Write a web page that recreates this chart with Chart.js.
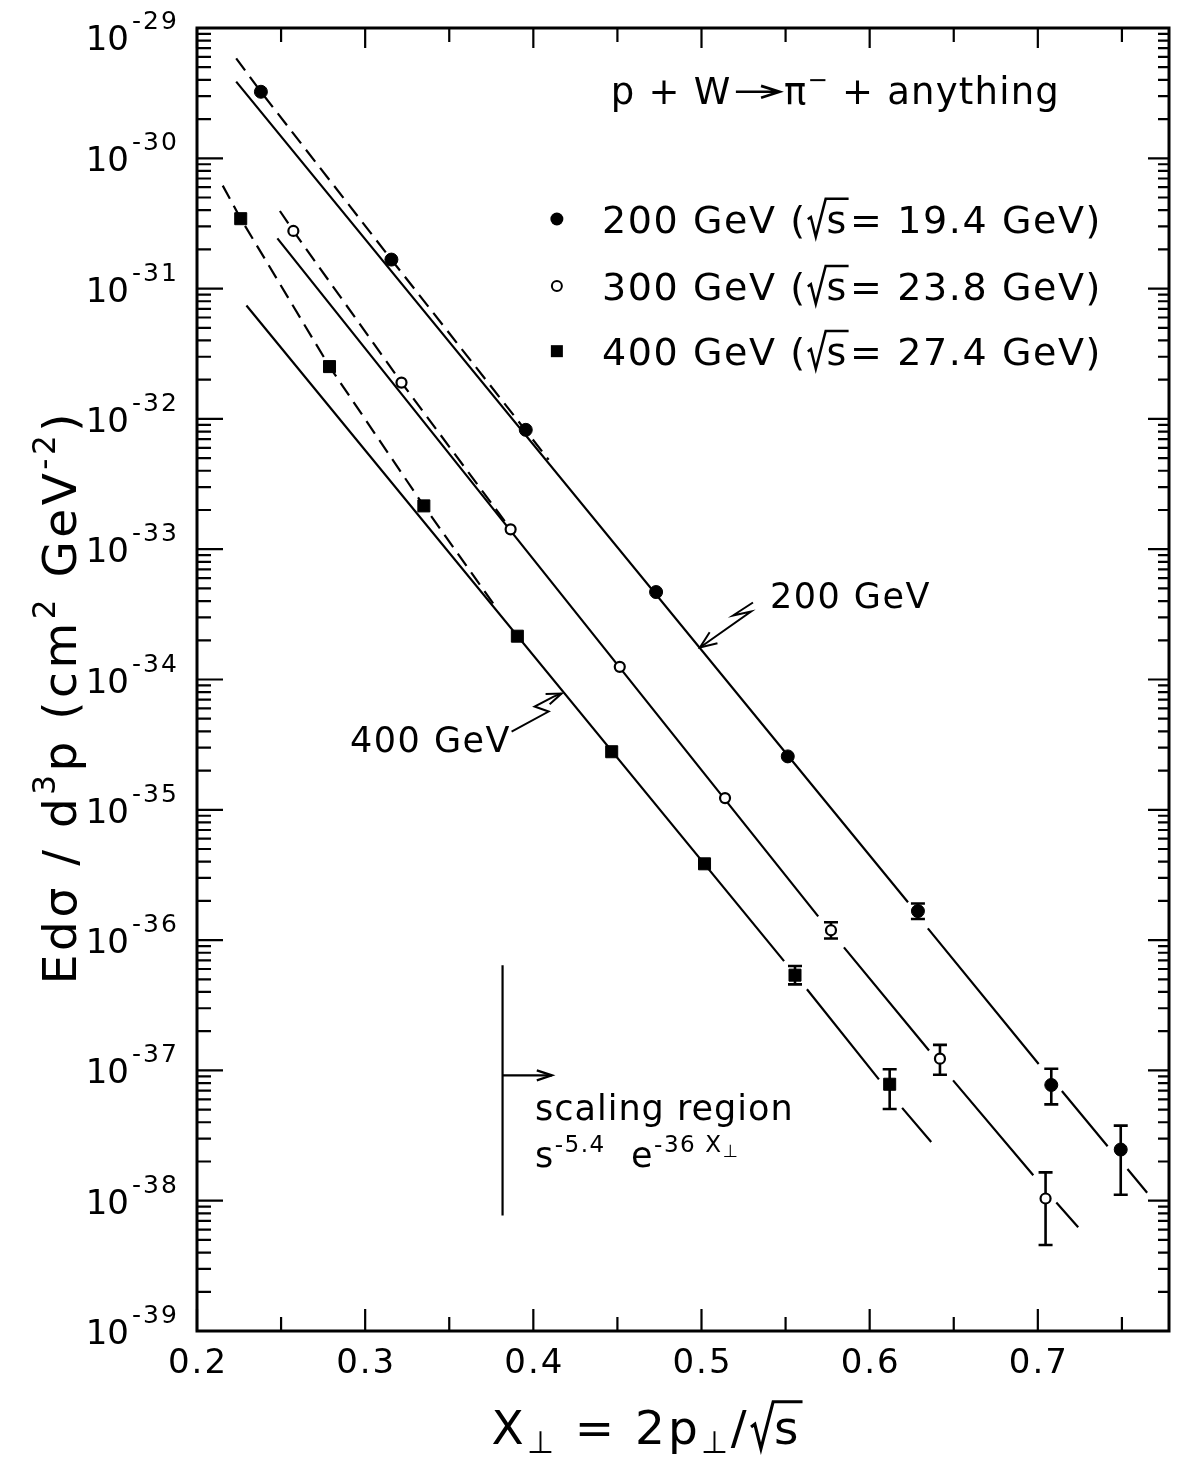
<!DOCTYPE html>
<html>
<head>
<meta charset="utf-8">
<script src="https://cdn.jsdelivr.net/npm/chart.js@4.4.1/dist/chart.umd.min.js"></script>
<style>
  html, body { margin: 0; padding: 0; background: #fff; }
  canvas { display: block; }
</style>
</head>
<body>
<canvas id="plot" width="1179" height="1463"></canvas>
<script>
// p + W -> pi- + anything
const x200 = [0.238, 0.3156, 0.3955, 0.473, 0.5513, 0.6287, 0.708, 0.7493];
const y200 = [3.24e-30, 1.67e-31, 8.24e-33, 4.69e-34, 2.57e-35, 1.67e-36, 7.73e-38, 2.47e-38];
const hi200 = [null, null, null, null, null, 1.91e-36, 1.03e-37, 3.77e-38];
const lo200 = [null, null, null, null, null, 1.45e-36, 5.49e-38, 1.11e-38];

const x300 = [0.2573, 0.3216, 0.3865, 0.4514, 0.514, 0.577, 0.6418, 0.7046];
const y300 = [2.77e-31, 1.90e-32, 1.42e-33, 1.25e-34, 1.23e-35, 1.19e-36, 1.23e-37, 1.04e-38];
const hi300 = [null, null, null, null, null, 1.37e-36, 1.57e-37, 1.65e-38];
const lo300 = [null, null, null, null, null, 1.03e-36, 9.27e-38, 4.57e-39];

const x400 = [0.226, 0.2788, 0.3349, 0.3905, 0.4466, 0.5018, 0.5556, 0.6119];
const y400 = [3.44e-31, 2.52e-32, 2.15e-33, 2.15e-34, 2.79e-35, 3.85e-36, 5.38e-37, 7.83e-38];
const hi400 = [null, null, null, null, null, null, 6.33e-37, 1.02e-37];
const lo400 = [null, null, null, null, null, null, 4.57e-37, 5.05e-38];

// fit curves (null = break in the drawn line)
const fit200x = [0.2233, 0.6228, null, 0.6346, 0.7005, null, 0.7143, 0.7415, null, 0.7533, 0.765];
const fit200y = [3.88e-30, 1.95e-36, null, 1.23e-36, 1.12e-37, null, 6.95e-38, 2.62e-38, null, 1.75e-38, 1.15e-38];
const fit300x = [0.2478, 0.5694, null, 0.5847, 0.6353, null, 0.6496, 0.6973, null, 0.711, 0.724];
const fit300y = [2.43e-31, 1.52e-36, null, 8.79e-37, 1.42e-37, null, 8.38e-38, 1.57e-38, null, 9.68e-39, 6.25e-39];
const fit400x = [0.2294, 0.5491, null, 0.5627, 0.6055, null, 0.6193, 0.6366];
const fit400y = [7.41e-32, 6.9e-37, null, 4.2e-37, 8.53e-38, null, 5.16e-38, 2.82e-38];

const low200x = [0.2233, 0.238, 0.3156, 0.4091];
const low200y = [5.85e-30, 3.24e-30, 1.67e-31, 4.86e-33];
const low300x = [0.2493, 0.2573, 0.3216, 0.3835];
const low300y = [3.94e-31, 2.77e-31, 1.90e-32, 1.61e-33];
const low400x = [0.2153, 0.226, 0.2788, 0.3349, 0.3785];
const low400y = [6.17e-31, 3.44e-31, 2.52e-32, 2.15e-33, 3.47e-34];

const beamEnergy = ['200', '300', '400'];
const rootS = ['19.4', '23.8', '27.4'];

const xMajor = [0.2, 0.3, 0.4, 0.5, 0.6, 0.7];
const xMinor = [0.25, 0.35, 0.45, 0.55, 0.65, 0.75];
const xTickLabels = ['0.2', '0.3', '0.4', '0.5', '0.6', '0.7'];
const yExponents = [-29, -30, -31, -32, -33, -34, -35, -36, -37, -38, -39];

const FAM = '"DejaVu Sans", sans-serif';

function pts(xa, ya) {
  return xa.map((x, i) => ya[i] === null ? { x: xa[i - 1], y: null } : { x: x, y: ya[i] });
}

// text with super/subscripts, roots and arrows
function rich(ctx, parts, x, y, size, spacing, draw) {
  let cx = x;
  ctx.letterSpacing = spacing + 'px';
  for (const [t, k] of parts) {
    if (k === 'n') {
      ctx.font = size + 'px ' + FAM;
      if (draw) ctx.fillText(t, cx, y);
      cx += ctx.measureText(t).width;
    } else if (k === 'sup' || k === 'sub' || k === 'supsub') {
      const s = k === 'supsub' ? size * 0.5 : size * 0.66;
      const dy = k === 'sup' ? -size * 0.44 : k === 'sub' ? size * 0.2 : -size * 0.3;
      ctx.font = s + 'px ' + FAM;
      if (draw) ctx.fillText(t, cx, y + dy);
      cx += ctx.measureText(t).width;
    } else if (k === 'root') {
      ctx.font = size + 'px ' + FAM;
      const w = ctx.measureText(t).width;
      const r = size * 0.5;
      if (draw) {
        ctx.beginPath();
        ctx.moveTo(cx + size * 0.03, y - size * 0.36);
        ctx.lineTo(cx + size * 0.11, y - size * 0.42);
        ctx.lineTo(cx + size * 0.24, y + size * 0.1);
        ctx.lineTo(cx + r, y - size * 0.9);
        ctx.lineTo(cx + r + w + size * 0.04, y - size * 0.9);
        ctx.lineWidth = size / 15;
        ctx.stroke();
        ctx.fillText(t, cx + r + size * 0.02, y);
      }
      cx += r + w + size * 0.08;
    } else if (k === 'arrow') {
      const L = size * 1.3, ay = y - size * 0.33;
      if (draw) {
        ctx.beginPath();
        ctx.moveTo(cx + size * 0.12, ay);
        ctx.lineTo(cx + L, ay);
        ctx.moveTo(cx + L - size * 0.5, ay - size * 0.16);
        ctx.lineTo(cx + L, ay);
        ctx.lineTo(cx + L - size * 0.5, ay + size * 0.16);
        ctx.lineWidth = size / 14;
        ctx.stroke();
      }
      cx += L + size * 0.12;
    }
  }
  ctx.letterSpacing = '0px';
  return cx - x;
}

function richAt(ctx, parts, x, y, size, spacing, align) {
  const w = rich(ctx, parts, 0, 0, size, spacing, false);
  const x0 = align === 'center' ? x - w / 2 : align === 'right' ? x - w : x;
  rich(ctx, parts, x0, y, size, spacing, true);
}

function arrowHead(ctx, tip, from, len, ang) {
  const a = Math.atan2(from[1] - tip[1], from[0] - tip[0]);
  ctx.beginPath();
  ctx.moveTo(tip[0] + len * Math.cos(a + ang), tip[1] + len * Math.sin(a + ang));
  ctx.lineTo(tip[0], tip[1]);
  ctx.lineTo(tip[0] + len * Math.cos(a - ang), tip[1] + len * Math.sin(a - ang));
  ctx.stroke();
}

const series = [
  { x: x200, y: y200, hi: hi200, lo: lo200 },
  { x: x300, y: y300, hi: hi300, lo: lo300 },
  { x: x400, y: y400, hi: hi400, lo: lo400 }
];

const decorations = {
  id: 'decorations',
  beforeDatasetsDraw(chart) {
    const { ctx, scales: { x: xs, y: ys } } = chart;
    ctx.save();
    ctx.strokeStyle = '#000';
    ctx.lineWidth = 2.6;
    for (const s of series) {
      s.x.forEach((xv, i) => {
        if (s.hi[i] === null) return;
        const px = xs.getPixelForValue(xv);
        const t = ys.getPixelForValue(s.hi[i]);
        const b = ys.getPixelForValue(s.lo[i]);
        ctx.beginPath();
        ctx.moveTo(px, t); ctx.lineTo(px, b);
        ctx.moveTo(px - 7, t); ctx.lineTo(px + 7, t);
        ctx.moveTo(px - 7, b); ctx.lineTo(px + 7, b);
        ctx.stroke();
      });
    }
    ctx.restore();
  },
  afterDraw(chart) {
    const { ctx, chartArea: a, scales: { x: xs, y: ys } } = chart;
    const P = (xv, yv) => [xs.getPixelForValue(xv), ys.getPixelForValue(yv)];
    ctx.save();
    ctx.strokeStyle = '#000';
    ctx.fillStyle = '#000';
    ctx.lineCap = 'butt';

    // frame
    ctx.lineWidth = 3;
    ctx.strokeRect(a.left, a.top, a.right - a.left, a.bottom - a.top);

    // y ticks (inward on both sides)
    ctx.lineWidth = 2.2;
    yExponents.forEach(e => {
      const py = ys.getPixelForValue(Math.pow(10, e));
      ctx.beginPath();
      ctx.moveTo(a.left, py); ctx.lineTo(a.left + 26, py);
      ctx.moveTo(a.right, py); ctx.lineTo(a.right - 21, py);
      ctx.stroke();
      if (e > -39) {
        for (let m = 2; m <= 9; m++) {
          const pm = ys.getPixelForValue(m * Math.pow(10, e - 1));
          ctx.beginPath();
          ctx.moveTo(a.left, pm); ctx.lineTo(a.left + 14, pm);
          ctx.moveTo(a.right, pm); ctx.lineTo(a.right - 11, pm);
          ctx.stroke();
        }
      }
      // label 10^e
      const base = Math.max(py + 13, a.top + 22);
      ctx.font = '34px ' + FAM;
      ctx.letterSpacing = '0px';
      ctx.textAlign = 'right';
      ctx.fillText('10', a.left - 68, base);
      ctx.textAlign = 'left';
      ctx.font = '25px ' + FAM;
      ctx.letterSpacing = '2px';
      ctx.fillText(String(e), a.left - 65, base - 21);
      ctx.letterSpacing = '0px';
    });

    // x ticks (inward, bottom and top)
    xMajor.forEach((v, i) => {
      const px = xs.getPixelForValue(v);
      ctx.beginPath();
      ctx.moveTo(px, a.bottom); ctx.lineTo(px, a.bottom - 22);
      ctx.moveTo(px, a.top); ctx.lineTo(px, a.top + 20);
      ctx.stroke();
      ctx.font = '34px ' + FAM;
      ctx.letterSpacing = '2px';
      ctx.textAlign = 'center';
      ctx.fillText(xTickLabels[i], px + 1, a.bottom + 42);
      ctx.letterSpacing = '0px';
    });
    xMinor.forEach(v => {
      const px = xs.getPixelForValue(v);
      ctx.beginPath();
      ctx.moveTo(px, a.bottom); ctx.lineTo(px, a.bottom - 14);
      ctx.moveTo(px, a.top); ctx.lineTo(px, a.top + 14);
      ctx.stroke();
    });
    ctx.textAlign = 'left';

    // axis titles
    richAt(ctx, [['X', 'n'], ['\u22A5', 'sub'], [' = 2p', 'n'], ['\u22A5', 'sub'], ['/', 'n'], ['s', 'root']],
      648, a.bottom + 113, 47, 3, 'center');
    ctx.save();
    ctx.translate(76, 697);
    ctx.rotate(-Math.PI / 2);
    richAt(ctx, [['Ed\u03C3 / d', 'n'], ['3', 'sup'], ['p (cm', 'n'], ['2', 'sup'], [' GeV', 'n'], ['-2', 'sup'], [')', 'n']],
      0, 0, 47, 3.5, 'center');
    ctx.restore();

    // reaction
    const tp = P(0.4461, 2.61e-30);
    rich(ctx, [['p + W', 'n'], ['', 'arrow'], ['\u03C0', 'n'], ['\u2212', 'sup'], [' + anything', 'n']], tp[0], tp[1], 37, 1.2, true);

    // legend
    const rows = [3.42e-31, 1.045e-31, 3.31e-32];
    rows.forEach((yv, i) => {
      const m = P(0.414, yv);
      const tx = xs.getPixelForValue(0.4408);
      ctx.lineWidth = 2;
      ctx.beginPath();
      if (i === 0) { ctx.arc(m[0], m[1], 6.5, 0, 2 * Math.PI); ctx.fill(); }
      else if (i === 1) { ctx.arc(m[0], m[1], 5, 0, 2 * Math.PI); ctx.stroke(); }
      else { ctx.fillRect(m[0] - 6, m[1] - 6, 12, 12); }
      rich(ctx, [[beamEnergy[i] + ' GeV (', 'n'], ['s', 'root'], ['= ' + rootS[i] + ' GeV)', 'n']],
        tx, m[1] + 14, 38, 1.6, true);
    });

    // curve labels with squiggly arrows
    ctx.font = '35px ' + FAM;
    ctx.letterSpacing = '1.5px';
    const l2 = P(0.5407, 3.51e-34);
    ctx.fillText('200 GeV', l2[0], l2[1]);
    const l4 = P(0.291, 2.78e-35);
    ctx.fillText('400 GeV', l4[0], l4[1]);
    ctx.letterSpacing = '0px';
    ctx.lineWidth = 2;
    const t2 = P(0.4991, 1.76e-34);
    const sq2 = [[53, -45], [33, -32], [51, -36], [0, 0]];
    ctx.beginPath();
    sq2.forEach(([dx, dy], i) => i ? ctx.lineTo(t2[0] + dx, t2[1] + dy) : ctx.moveTo(t2[0] + dx, t2[1] + dy));
    ctx.stroke();
    arrowHead(ctx, t2, [t2[0] + 50, t2[1] - 36], 18, 0.38);
    const t4 = P(0.4168, 7.8e-35);
    const sq4 = [[-50, 38], [-13, 18], [-27, 13], [-8, 3], [0, 0]];
    ctx.beginPath();
    sq4.forEach(([dx, dy], i) => i ? ctx.lineTo(t4[0] + dx, t4[1] + dy) : ctx.moveTo(t4[0] + dx, t4[1] + dy));
    ctx.stroke();
    arrowHead(ctx, t4, [t4[0] - 20, t4[1] + 8], 16, 0.35);

    // scaling region marker
    const v0 = P(0.3817, 6.4e-37), v1 = P(0.3817, 7.7e-39);
    ctx.lineWidth = 2.2;
    ctx.beginPath();
    ctx.moveTo(v0[0], v0[1]); ctx.lineTo(v1[0], v1[1]);
    const ar = P(0.3817, 9.16e-38), ae = P(0.4111, 9.16e-38);
    ctx.moveTo(ar[0], ar[1]); ctx.lineTo(ae[0], ae[1]);
    ctx.stroke();
    arrowHead(ctx, ae, ar, 16, 0.32);
    const s1 = P(0.401, 4.13e-38);
    ctx.font = '35px ' + FAM;
    ctx.letterSpacing = '1px';
    ctx.fillText('scaling region', s1[0], s1[1]);
    ctx.letterSpacing = '0px';
    const s2 = P(0.401, 1.8e-38);
    rich(ctx, [['s', 'n'], ['-5.4', 'sup'], ['  e', 'n'], ['-36 X', 'sup'], ['\u22A5', 'supsub']], s2[0], s2[1], 35, 1.5, true);

    ctx.restore();
  }
};

const lineStyle = { showLine: true, pointRadius: 0, borderColor: '#000', backgroundColor: '#000', borderWidth: 2.2, spanGaps: false, order: 2 };
const dashStyle = Object.assign({}, lineStyle, { borderDash: [15, 8] });

new Chart(document.getElementById('plot'), {
  type: 'scatter',
  data: {
    datasets: [
      { label: '200 GeV', data: pts(x200, y200), pointStyle: 'circle', pointRadius: 6.5, pointBackgroundColor: '#000', pointBorderColor: '#000', pointBorderWidth: 1, order: 0 },
      { label: '300 GeV', data: pts(x300, y300), pointStyle: 'circle', pointRadius: 5, pointBackgroundColor: '#fff', pointBorderColor: '#000', pointBorderWidth: 2.2, order: 0 },
      { label: '400 GeV', data: pts(x400, y400), pointStyle: 'rect', pointRadius: 8.5, pointBackgroundColor: '#000', pointBorderColor: '#000', pointBorderWidth: 1, order: 0 },
      Object.assign({ label: 'fit 200', data: pts(fit200x, fit200y) }, lineStyle),
      Object.assign({ label: 'fit 300', data: pts(fit300x, fit300y) }, lineStyle),
      Object.assign({ label: 'fit 400', data: pts(fit400x, fit400y) }, lineStyle),
      Object.assign({ label: 'low 200', data: pts(low200x, low200y) }, dashStyle),
      Object.assign({ label: 'low 300', data: pts(low300x, low300y) }, dashStyle),
      Object.assign({ label: 'low 400', data: pts(low400x, low400y) }, dashStyle)
    ]
  },
  options: {
    responsive: false,
    animation: false,
    devicePixelRatio: 1,
    layout: { padding: { top: 28, right: 10, left: 0, bottom: 0 }, autoPadding: false },
    plugins: { legend: { display: false }, tooltip: { enabled: false } },
    scales: {
      x: {
        type: 'linear', min: 0.2, max: 0.778,
        grid: { display: false }, border: { display: false }, ticks: { display: false },
        afterFit: s => { s.height = 132; }
      },
      y: {
        type: 'logarithmic', min: 1e-39, max: 1e-29,
        grid: { display: false }, border: { display: false }, ticks: { display: false },
        afterFit: s => { s.width = 197; }
      }
    }
  },
  plugins: [decorations]
});
</script>
</body>
</html>
